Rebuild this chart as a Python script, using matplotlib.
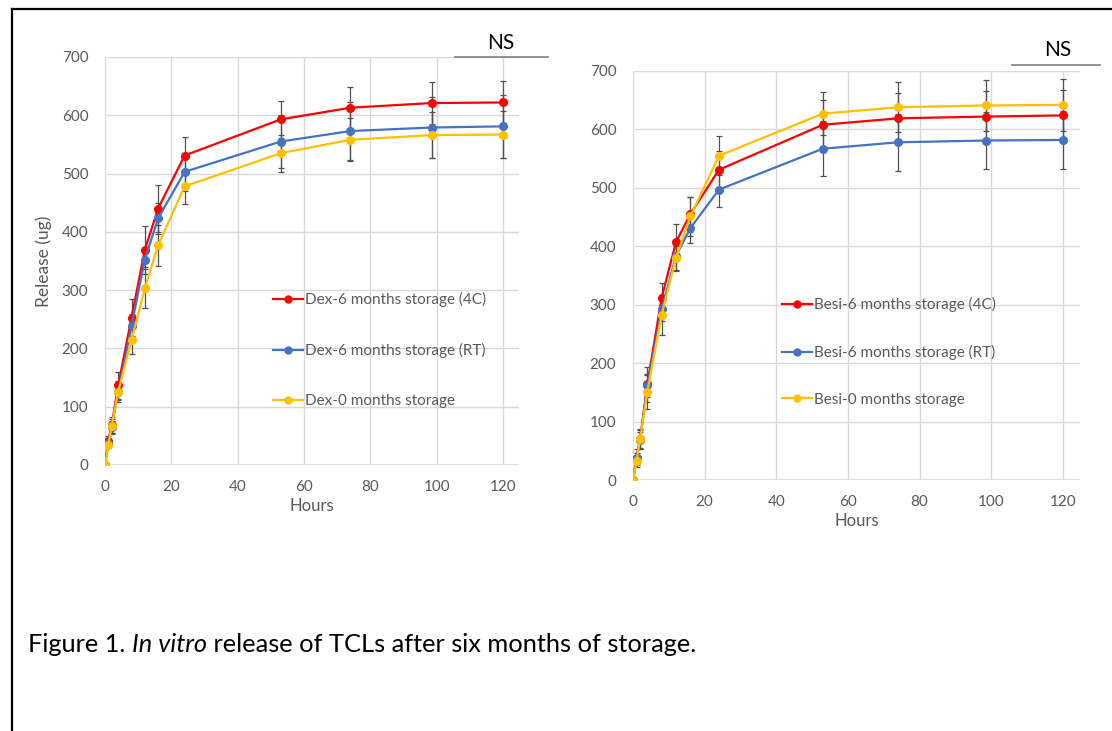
"""
In vitro release of TCLs after six months of storage (Dex / Besi)
"""
import matplotlib
matplotlib.use('Agg')
import matplotlib.pyplot as plt
from matplotlib.lines import Line2D

plt.rcParams['font.family'] = ['Lato', 'DejaVu Sans']

hours = [0, 1, 2, 4, 8, 12, 16, 24, 53, 74, 98.5, 120]

dex_4c = [0, 42, 68, 137, 253, 369, 440, 531, 593, 613, 621, 622]
dex_4c_err = [0, 8, 14, 23, 31, 41, 40, 31, 32, 35, 36, 36]
dex_rt = [0, 38, 65, 126, 239, 352, 423, 503, 555, 573, 579, 581]
dex_rt_err = [0, 6, 10, 15, 20, 12, 27, 33, 46, 50, 53, 54]
dex_0 = [0, 34, 67, 126, 215, 303, 377, 478, 535, 558, 566, 567]
dex_0_err = [0, 5, 12, 18, 24, 34, 35, 30, 32, 37, 40, 41]

besi_4c = [0, 38, 70, 164, 312, 407, 455, 531, 608, 619, 622, 624]
besi_4c_err = [0, 15, 17, 30, 25, 31, 30, 32, 42, 43, 44, 44]
besi_rt = [0, 37, 68, 162, 292, 383, 431, 497, 567, 578, 581, 582]
besi_rt_err = [0, 10, 15, 20, 20, 25, 25, 29, 47, 49, 49, 49]
besi_0 = [0, 33, 70, 151, 283, 380, 451, 555, 627, 638, 641, 642]
besi_0_err = [0, 8, 15, 29, 34, 20, 33, 33, 37, 43, 44, 44]

dex_labels = ['Dex-6 months storage (4C)', 'Dex-6 months storage (RT)', 'Dex-0 months storage']
besi_labels = ['Besi-6 months storage (4C)', 'Besi-6 months storage (RT)', 'Besi-0 months storage']

colors = ['#FF0000', '#4472C4', '#FFC000']
grid_c = '#D9D9D9'
text_c = '#595959'

W, H = 1112, 731
fig = plt.figure(figsize=(W / 100, H / 100), dpi=100)


def px_axes(x0, y0, x1, y1):
    # pixel box (top-left origin) -> figure axes
    return fig.add_axes([x0 / W, 1 - y1 / H, (x1 - x0) / W, (y1 - y0) / H])


def draw_panel(ax, series, errs, labels):
    for y, e, c, lab in zip(series, errs, colors, labels):
        ax.errorbar(hours, y, yerr=e, color=c, lw=1.6, marker='o', ms=5.5,
                    ecolor='#505050', elinewidth=0.9, capsize=2.5, capthick=0.9,
                    label=lab, zorder=3)
    ax.set_xlim(0, 124.8)
    ax.set_ylim(0, 700)
    ax.set_xticks(range(0, 121, 20))
    ax.set_yticks(range(0, 701, 100))
    ax.grid(True, color=grid_c, lw=1)
    ax.set_axisbelow(True)
    for s in ax.spines.values():
        s.set_visible(False)
    ax.axhline(0, color=grid_c, lw=1.2, zorder=1)
    ax.tick_params(length=0, labelsize=11, colors=text_c)
    ax.tick_params(axis='y', pad=12)
    ax.tick_params(axis='x', pad=11)
    ax.set_xlabel('Hours', fontsize=12, color=text_c, labelpad=3)


ax1 = px_axes(105, 57, 519, 465)
draw_panel(ax1, [dex_4c, dex_rt, dex_0], [dex_4c_err, dex_rt_err, dex_0_err], dex_labels)
ax1.set_ylabel('Release (ug)', fontsize=12.5, color=text_c, labelpad=7)

ax2 = px_axes(633, 71, 1080, 480)
draw_panel(ax2, [besi_4c, besi_rt, besi_0], [besi_4c_err, besi_rt_err, besi_0_err], besi_labels)


def legend_handles():
    return [Line2D([], [], color=c, lw=1.6, marker='o', ms=5) for c in colors]


leg1 = ax1.legend(legend_handles(), dex_labels, loc='upper left',
                  bbox_to_anchor=(273 / W, 1 - 292 / H), bbox_transform=fig.transFigure,
                  frameon=False, fontsize=11, labelspacing=2.35, handlelength=1.95,
                  handletextpad=0.12, borderpad=0, borderaxespad=0, labelcolor=text_c)
leg2 = ax2.legend(legend_handles(), besi_labels, loc='upper left',
                  bbox_to_anchor=(782 / W, 1 - 297 / H), bbox_transform=fig.transFigure,
                  frameon=False, fontsize=11, labelspacing=2.15, handlelength=1.95,
                  handletextpad=0.12, borderpad=0, borderaxespad=0, labelcolor=text_c)

# NS annotations with a line underneath
fig.text(501 / W, 1 - 43 / H, 'NS', fontsize=15, ha='center', va='center', color='black')
fig.add_artist(Line2D([455 / W, 548 / W], [1 - 57 / H, 1 - 57 / H], color='#7F7F7F', lw=1.2))
fig.text(1058 / W, 1 - 50 / H, 'NS', fontsize=15, ha='center', va='center', color='black')
fig.add_artist(Line2D([1012 / W, 1100 / W], [1 - 65 / H, 1 - 65 / H], color='#7F7F7F', lw=1.2))

# page frame (left and top edges)
fig.add_artist(Line2D([12 / W, 12 / W], [0, 1 - 9 / H], color='black', lw=1.6))
fig.add_artist(Line2D([12 / W, 1], [1 - 9 / H, 1 - 9 / H], color='black', lw=1.6))

# caption, built from three pieces so "In vitro" can be italic
cap_y = 1 - 645 / H
cap_fs = 18.3
fig.canvas.draw()
r = fig.canvas.get_renderer()
t1 = fig.text(28 / W, cap_y, 'Figure 1. ', fontsize=cap_fs, ha='left', va='center')
bb = t1.get_window_extent(r)
t2 = fig.text(bb.x1 / W, cap_y, 'In vitro', fontsize=cap_fs, style='italic', ha='left', va='center')
bb2 = t2.get_window_extent(r)
fig.text(bb2.x1 / W, cap_y, ' release of TCLs after six months of storage.', fontsize=cap_fs,
         ha='left', va='center')

plt.savefig('out.png', dpi=100, facecolor='white')
